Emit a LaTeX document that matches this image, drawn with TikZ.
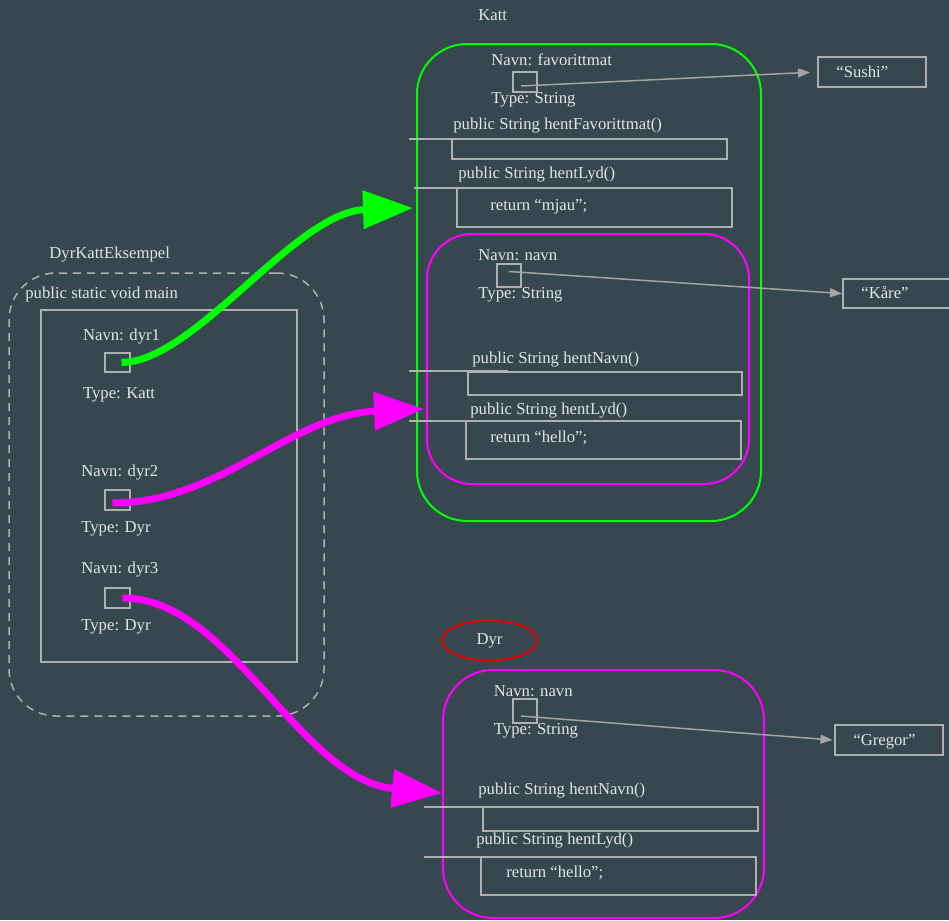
\documentclass[tikz,border=0pt]{standalone}
\usepackage{fontspec}
\setmainfont{Liberation Serif}
\usetikzlibrary{arrows.meta,fit,shapes.geometric}
\definecolor{bg}{HTML}{37474F}
\definecolor{txt}{HTML}{E4E4E4}
\definecolor{boxc}{HTML}{B0B0B0}
\definecolor{arrc}{HTML}{A4A4A4}
\definecolor{kgreen}{HTML}{00FF00}
\definecolor{kmag}{HTML}{FF00FF}
\definecolor{kred}{HTML}{E00000}
\begin{document}
\begin{tikzpicture}[x=0.2mm,y=-0.2mm,
  lbl/.style={anchor=base west,inner sep=0,text=txt,font=\fontsize{9.5}{11}\selectfont},
  box/.style={draw=boxc,line width=0.4mm,inner sep=0},
  frame/.style={line width=0.4mm,inner sep=0},
  stub/.style={draw=boxc,line width=0.4mm},
  ref/.style={draw=arrc,line width=0.3mm,-{Triangle[length=2.4mm,width=1.8mm]}},
  bigref/.style={line width=1.4mm,-{Triangle[length=10mm,width=7.4mm]}}]
\fill[bg] (0,0) rectangle (949,920);
\useasboundingbox (0,0) rectangle (949,920);

% ---------- Katt object ----------
\node[lbl] (kattT) at (478,20) {Katt};
\node[frame,draw=kgreen,rounded corners=10mm,fit={(417,44)(761,521)}] (katt) {};
\node[lbl] (favN) at (491,65) {Navn: favorittmat};
\node[box,fit={(513,72)(537,92)}] (favbox) {};
\node[lbl] (favT) at (491,103) {Type: String};
\node[box,fit={(818,57)(926,87)}] (sushi) {};
\node[lbl] (sushiT) at (836,77) {“Sushi”};

\node[lbl] (m1) at (453,129) {public String hentFavorittmat()};
\draw[stub] (409,139) -- (508,139);
\node[box,fit={(452,139)(727,159)}] (mb1) {};
\node[lbl] (m2) at (458,178) {public String hentLyd()};
\draw[stub] (414,188) -- (514,188);
\node[box,fit={(457,188)(732,227)}] (mb2) {};
\node[lbl] (r1) at (490,210) {return “mjau”;};

\node[frame,draw=kmag,rounded corners=9mm,fit={(427,234)(749,484)}] (kattdyr) {};
\node[lbl] (nN) at (478,260) {Navn: navn};
\node[box,fit={(497,264)(521,287)}] (navnbox) {};
\node[lbl] (nT) at (478,298) {Type: String};
\node[box,fit={(843,279)(960,308)}] (kare) {};
\node[lbl] (kareT) at (861,298) {“Kåre”};

\node[lbl] (m3) at (472,363) {public String hentNavn()};
\draw[stub] (409,371) -- (508,371);
\node[box,fit={(468,372)(742,395)}] (mb3) {};
\node[lbl] (m4) at (470,414) {public String hentLyd()};
\draw[stub] (409,421) -- (508,421);
\node[box,fit={(466,421)(741,459)}] (mb4) {};
\node[lbl] (r2) at (490,442) {return “hello”;};

% ---------- Dyr object ----------
\node[ellipse,draw=kred,line width=0.4mm,minimum width=19mm,minimum height=8mm,inner sep=0,
      text=txt,font=\fontsize{9.5}{11}\selectfont] (dyrE) at (489.5,640.5) {Dyr};
\node[frame,draw=kmag,rounded corners=10mm,fit={(443,670)(764,918)}] (dyr) {};
\node[lbl] (dN) at (493.5,696) {Navn: navn};
\node[box,fit={(513,699)(537,723)}] (dnavnbox) {};
\node[lbl] (dT) at (493.5,734) {Type: String};
\node[box,fit={(835,725)(943,755)}] (gregor) {};
\node[lbl] (gregorT) at (853,745) {“Gregor”};

\node[lbl] (m5) at (478,794) {public String hentNavn()};
\draw[stub] (424,807) -- (524,807);
\node[box,fit={(483,807)(758,831)}] (mb5) {};
\node[lbl] (m6) at (476,844) {public String hentLyd()};
\draw[stub] (424,857) -- (524,857);
\node[box,fit={(481,857)(756,895)}] (mb6) {};
\node[lbl] (r3) at (506,877) {return “hello”;};

% ---------- DyrKattEksempel ----------
\node[lbl] (dke) at (49,258) {DyrKattEksempel};
\node[frame,draw=boxc,line width=0.3mm,dash pattern=on 1.6mm off 1.2mm,rounded corners=9.4mm,
      fit={(9,273)(324,716)}] (cls) {};
\node[lbl] (psvm) at (25,298) {public static void main};
\node[box,fit={(41,310)(297,662)}] (main) {};
\node[lbl] (d1N) at (82.7,340) {Navn: dyr1};
\node[box,fit={(105,353)(130,372)}] (d1) {};
\node[lbl] (d1T) at (82.7,398) {Type: Katt};
\node[lbl] (d2N) at (81,476) {Navn: dyr2};
\node[box,fit={(105,490)(130,510)}] (d2) {};
\node[lbl] (d2T) at (81,532) {Type: Dyr};
\node[lbl] (d3N) at (81,573) {Navn: dyr3};
\node[box,fit={(105,588)(130,608)}] (d3) {};
\node[lbl] (d3T) at (81,630) {Type: Dyr};

% ---------- references ----------
\draw[ref] ([shift={(-4,4)}]favbox.center) -- (sushi.west) [shorten >=1.4mm];
\draw[ref] ([shift={(0,-4)}]navnbox.center) -- (kare.west);
\draw[ref] ([shift={(-4,5)}]dnavnbox.center) -- ([xshift=-0.3mm]gregor.west);

\coordinate (kattin) at (413,208);
\coordinate (kattin2) at (424,409);
\coordinate (dyrin) at (442,793);
\draw[bigref,kgreen] ([shift={(4,0)}]d1.center) .. controls (195,362) and (295,212) .. (kattin);
\draw[bigref,kmag] ([shift={(-5,3)}]d2.center) .. controls (220,503) and (290,415) .. (kattin2);
\draw[bigref,kmag] ([shift={(5,0)}]d3.center) .. controls (230,597) and (300,780) .. (dyrin);
\end{tikzpicture}
\end{document}
